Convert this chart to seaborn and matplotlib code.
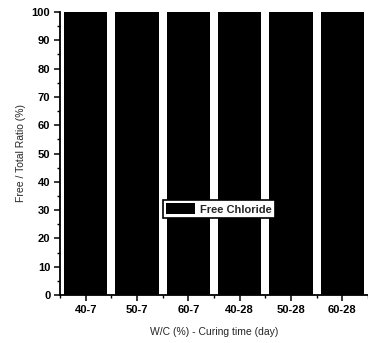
import matplotlib
matplotlib.use("Agg")
import matplotlib.pyplot as plt
import seaborn as sns
import pandas as pd
from matplotlib.ticker import MultipleLocator

categories = ["40-7", "50-7", "60-7", "40-28", "50-28", "60-28"]
free_ratio = [100, 100, 100, 100, 100, 100]
series_name = "Free Chloride"

df = pd.DataFrame({"cat": categories, "ratio": free_ratio, "series": series_name})

sns.set_style("white")
plt.rcParams['font.family'] = ['Liberation Sans', 'DejaVu Sans']
plt.rcParams['font.weight'] = 'bold'

fig = plt.figure(figsize=(3.68, 3.43), dpi=100)
ax = fig.add_axes([60/368, 48/343, 308/368, 283/343])

sns.barplot(data=df, x="cat", y="ratio", hue="series", palette=["black"],
            width=0.84, ax=ax, edgecolor="black", linewidth=0, saturation=1)

ax.set_xlim(-0.466, 5.39)
ax.set_ylim(0, 100)
ax.yaxis.set_major_locator(MultipleLocator(10))
ax.yaxis.set_minor_locator(MultipleLocator(5))
ax.set_xticks(range(len(categories)))
ax.set_xticks([i + 0.5 for i in range(-1, len(categories))], minor=True)
ax.set_xticklabels(categories, fontweight="bold")
for lab in ax.get_yticklabels():
    lab.set_fontweight("bold")

for s in ["top", "right"]:
    ax.spines[s].set_visible(False)
for s in ["left", "bottom"]:
    ax.spines[s].set_color("black")
    ax.spines[s].set_linewidth(1.3)

ax.tick_params(axis="both", which="major", direction="out", length=4, width=1.1, colors="black",
               labelsize=8, bottom=True, left=True, pad=3)
ax.tick_params(axis="both", which="minor", direction="out", length=2.5, width=1, colors="black",
               bottom=True, left=True)

ax.set_xlabel("W/C (%) - Curing time (day)", fontsize=7.5, labelpad=9, fontweight="normal")
ax.set_ylabel("Free / Total Ratio (%)", fontsize=7.5, labelpad=4, fontweight="normal")

leg = ax.legend(loc="center", bbox_to_anchor=((219-60)/308, (295-209)/283), frameon=True, fancybox=False,
                prop={"size": 8, "weight": "bold"}, handlelength=2.6, handleheight=1.1, borderpad=0.3,
                handletextpad=0.4, borderaxespad=0)
leg.get_frame().set_edgecolor("black")
leg.get_frame().set_facecolor("white")
leg.get_frame().set_alpha(1)
leg.get_frame().set_linewidth(1.2)

fig.savefig("out.png", dpi=100)
